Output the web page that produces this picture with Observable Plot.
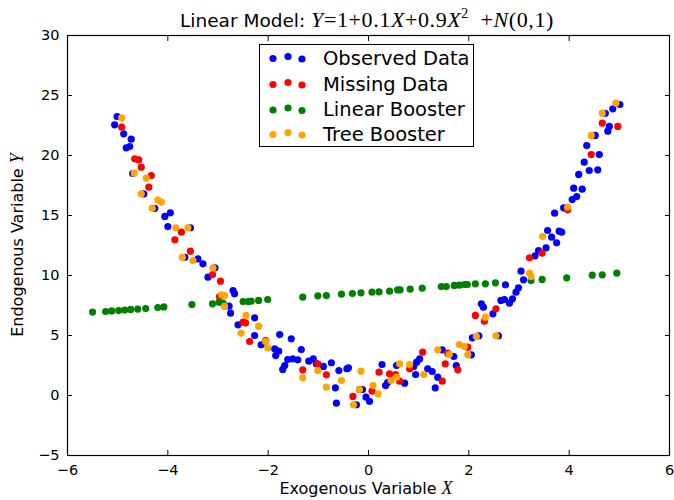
<!DOCTYPE html>
<html><head><meta charset="utf-8">
<script src="https://cdn.jsdelivr.net/npm/d3@7"></script>
<script src="https://cdn.jsdelivr.net/npm/@observablehq/plot@0.6"></script>
<style>body{margin:0;background:#fff} #chart svg{font-family:"DejaVu Sans",sans-serif}</style>
</head><body><div id="chart"></div><script>
const seriesNames = ["Observed Data", "Missing Data", "Linear Booster", "Tree Booster"];
const seriesColors = ["#0000ff", "#ff0000", "#008000", "#ffa500"];
const xTicks = [-6, -4, -2, 0, 2, 4, 6];
const yTicks = [-5, 0, 5, 10, 15, 20, 25, 30];

const observedX = [-5.01,-5.06,-4.88,-4.73,-4.83,-4.76,-4.70,-4.48,-4.26,-4.06,-3.95,-4.00,-3.55,-3.66,-3.40,-3.30,-3.06,-3.20,
  -2.70,-2.67,-2.78,-2.75,-2.27,-2.60,-2.27,-1.77,-1.54,-2.14,-1.87,-1.79,-1.85,-1.34,-1.61,-1.51,-1.41,-1.67,-1.71,-1.19,-1.10,-1.04,-0.90,
  -0.74,-0.59,-0.43,-0.40,-0.66,-0.64,-0.24,-0.12,-0.05,0.02,0.27,0.34,0.38,0.72,0.56,0.90,0.94,0.96,1.02,1.18,1.27,1.33,
  1.38,1.47,1.75,1.70,2.05,2.07,2.20,2.59,2.25,2.29,2.48,2.64,2.71,2.81,2.87,2.94,2.99,2.73,3.04,3.09,3.32,3.39,3.54,3.57,
  5.01,4.87,4.72,4.80,4.77,4.52,4.35,4.60,4.30,4.40,4.57,4.19,4.09,4.26,4.15,4.06,3.89,3.71,3.80,3.85,3.65,3.75];
const observedY = [23.25,22.56,21.81,21.36,20.64,20.75,18.50,16.80,15.60,14.92,15.22,14.08,13.98,11.52,11.39,10.97,10.64,9.86,
  8.75,8.47,7.44,6.86,6.47,5.89,5.00,5.08,4.73,4.22,3.89,3.69,3.33,3.83,3.00,3.06,2.97,2.50,2.17,2.86,3.06,2.64,2.42,
  2.73,2.08,2.23,2.31,0.64,-0.64,-0.78,0.50,-0.14,-0.48,2.58,0.83,1.08,1.03,2.50,2.42,1.75,2.78,3.06,2.23,2.00,0.64,
  1.53,3.81,2.50,3.25,3.39,4.81,4.98,4.98,7.64,7.36,6.81,7.92,8.00,7.69,8.06,8.61,8.98,9.23,10.36,9.64,11.64,12.08,12.31,13.75,
  24.25,23.89,23.52,22.42,22.03,21.67,20.83,20.08,19.44,18.75,18.81,18.42,17.28,17.19,16.58,16.33,15.64,15.19,13.69,13.61,13.19,12.72];

const missingX = [-4.92,-4.66,-4.58,-4.53,-4.33,-4.38,-3.73,-3.86,-3.55,-3.11,-2.95,-2.97,-2.50,-2.45,-2.37,-2.05,
  -1.01,-1.31,-0.84,-0.31,-0.18,0.07,0.21,0.42,0.54,0.62,0.82,1.08,1.47,1.58,1.53,1.78,1.98,
  2.13,2.31,2.54,3.21,3.46,3.97,4.44,4.66,4.97];
const missingY = [22.36,19.72,19.64,19.03,18.33,17.36,13.61,12.97,12.03,10.08,9.53,8.25,6.11,6.06,4.50,4.58,
  2.64,2.14,1.72,-0.08,0.50,0.36,1.94,1.81,1.75,1.19,2.22,3.61,1.19,3.53,2.64,2.14,4.03,
  6.67,6.19,7.22,11.47,11.86,15.47,20.08,22.69,22.42];

const linearX = [-5.50,-5.24,-5.12,-4.98,-4.86,-4.74,-4.60,-4.44,-4.20,-4.08,-3.52,-3.11,-2.98,-2.90,-2.50,-2.40,-2.34,-2.19,-2.01,
  -1.31,-1.01,-0.84,-0.54,-0.32,-0.15,0.07,0.21,0.42,0.58,0.63,0.83,1.07,1.45,1.55,1.71,1.81,1.91,1.97,2.13,2.33,2.53,
  3.24,3.46,3.95,4.46,4.66,4.95];
const linearY = [6.95,7.00,7.05,7.08,7.12,7.17,7.20,7.25,7.33,7.38,7.58,7.64,7.78,7.69,7.83,7.83,7.86,7.92,8.00,
  8.19,8.31,8.33,8.44,8.50,8.56,8.61,8.64,8.69,8.81,8.81,8.86,8.94,9.08,9.08,9.17,9.19,9.25,9.25,9.31,9.31,9.39,
  9.58,9.67,9.81,10.03,10.06,10.19];

const treeX = [-4.92,-4.67,-4.43,-4.53,-4.20,-4.13,-4.31,-3.84,-3.60,-3.71,-3.50,-3.10,-2.93,-2.87,-2.87,-2.44,-2.19,-2.54,-2.01,-2.05,
  -1.01,-1.31,-0.84,-0.54,-0.15,-0.30,-0.18,0.09,0.19,0.45,0.56,0.62,0.82,1.10,1.38,1.61,1.81,1.91,1.98,2.15,2.54,2.33,
  3.21,3.24,3.47,3.97,4.44,4.66,4.93];
const treeY = [23.14,18.53,18.11,16.81,16.31,16.11,15.61,13.98,13.98,11.53,11.25,10.64,8.39,8.33,7.42,6.67,5.78,5.19,3.97,4.50,
  2.08,1.47,0.69,1.25,2.03,-0.78,0.50,0.83,0.14,1.25,1.53,2.64,2.58,1.75,3.81,3.42,4.25,4.08,3.39,4.92,4.97,6.53,
  10.19,9.92,13.25,15.69,21.67,23.53,24.36];

const rows = [];
function addSeries(name, xs, ys) { xs.forEach((x, i) => rows.push({series: name, x, y: ys[i]})); }
addSeries(seriesNames[0], observedX, observedY);
addSeries(seriesNames[1], missingX, missingY);
addSeries(seriesNames[2], linearX, linearY);
addSeries(seriesNames[3], treeX, treeY);

const plot = Plot.plot({
  width: 674, height: 500,
  marginLeft: 67, marginRight: 5, marginTop: 35, marginBottom: 45,
  style: {fontFamily: "DejaVu Sans, sans-serif", fontSize: "14px", color: "black", background: "white"},
  x: {domain: [-6, 6]},
  y: {domain: [-5, 30]},
  color: {domain: seriesNames, range: seriesColors},
  marks: [
    Plot.dot(rows, {x: "x", y: "y", fill: "series", r: 3.6}),
    Plot.axisX(xTicks, {anchor: "bottom", tickSize: -5, tickPadding: 14, label: null, fontSize: 14.5}),
    Plot.axisX(xTicks, {anchor: "top", tickSize: -5, fill: "none", label: null}),
    Plot.axisY(yTicks, {anchor: "left", tickSize: -5, tickPadding: 13, label: null, fontSize: 14.5}),
    Plot.axisY(yTicks, {anchor: "right", tickSize: -5, fill: "none", label: null}),
    Plot.frame({stroke: "black", strokeWidth: 1.2})
  ]
});
document.getElementById("chart").append(plot);

const svg = d3.select(plot);
const color = plot.scale("color");
const serif = "Liberation Serif, DejaVu Serif, serif";
// Title
const title = svg.append("text").attr("x", 367).attr("y", 27).attr("text-anchor", "middle")
  .attr("font-size", 18.5).attr("fill", "black");
title.append("tspan").attr("font-family", "DejaVu Sans").text("Linear Model: ");
const parts = [["Y", true], ["=1+0.1", false], ["X", true], ["+0.9", false], ["X", true]];
parts.forEach(([t, it]) => title.append("tspan").attr("font-family", serif).attr("font-size", 22)
  .attr("font-style", it ? "italic" : "normal").attr("letter-spacing", 0.6).text(t));
title.append("tspan").attr("font-family", serif).attr("font-size", 14).attr("dy", -9).text("2");
title.append("tspan").attr("font-family", serif).attr("font-size", 22).attr("dy", 9).attr("letter-spacing", 0.6).text("  +");
title.append("tspan").attr("font-family", serif).attr("font-size", 22).attr("font-style", "italic").attr("letter-spacing", 0.6).text("N");
title.append("tspan").attr("font-family", serif).attr("font-size", 22).attr("letter-spacing", 0.6).text("(0,1)");

// Axis labels
const xl = svg.append("text").attr("x", 366).attr("y", 494).attr("text-anchor", "middle").attr("font-size", 16);
xl.append("tspan").text("Exogenous Variable ");
xl.append("tspan").attr("font-family", serif).attr("font-style", "italic").attr("font-size", 18).text("X");
const yl = svg.append("text").attr("transform", "translate(23,245) rotate(-90)").attr("text-anchor", "middle").attr("font-size", 16);
yl.append("tspan").text("Endogenous Variable ");
yl.append("tspan").attr("font-family", serif).attr("font-style", "italic").attr("font-size", 18).text("Y");

// Legend
const lg = svg.append("g");
lg.append("rect").attr("x", 259.5).attr("y", 44.5).attr("width", 214).attr("height", 102)
  .attr("fill", "white").attr("stroke", "black").attr("stroke-width", 1);
const rowY = [58, 84, 109.5, 134];
const dotDX = [273, 288, 302];
const dotDY = [0.5, -1.5, 1];
seriesNames.forEach((name, i) => {
  dotDX.forEach((dx, j) => lg.append("circle").attr("cx", dx).attr("cy", rowY[i] + dotDY[j]).attr("r", 3.6).attr("fill", color.apply(name)));
  lg.append("text").attr("x", 323).attr("y", rowY[i]).attr("dy", "0.35em").attr("text-anchor", "start")
    .attr("font-size", 19.5).text(name);
});
</script></body></html>
